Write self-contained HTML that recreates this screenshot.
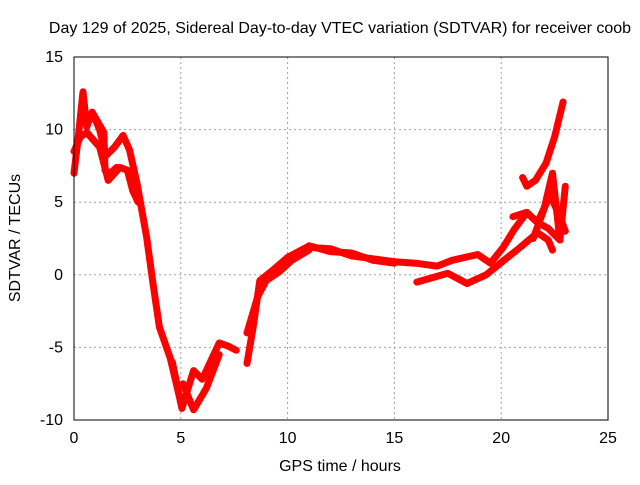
<!DOCTYPE html>
<html><head><meta charset="utf-8"><style>
body{margin:0;background:#fff}
text{font-family:"Liberation Sans",sans-serif;font-size:16px;fill:#000}
</style></head><body>
<svg id="chart" width="640" height="480" xmlns="http://www.w3.org/2000/svg">
<rect width="640" height="480" fill="#fff"/>
<text x="340" y="33" text-anchor="middle">Day 129 of 2025, Sidereal Day-to-day VTEC variation (SDTVAR) for receiver coob</text>
<g id="grid"></g>
<g id="ticks"></g>
<g id="series"></g>
<rect x="74" y="57" width="534" height="363" fill="none" stroke="#000" stroke-width="1"/>
<text x="340" y="471" text-anchor="middle">GPS time / hours</text>
<text transform="translate(20,238) rotate(-90)" text-anchor="middle">SDTVAR / TECUs</text>
</svg>
<script>
const xTicks=[0,5,10,15,20,25];
const yTicks=[-10,-5,0,5,10,15];
const t1Hours=[0,0.2,0.42,0.6,0.85,1.2,1.5,1.9,2.3,2.6,2.95,3.4,3.7,4.0,4.5,5.0];
const t1Vals=[7,9.5,12.6,10.2,11.2,10,8.2,8.8,9.6,8.6,6.3,2.6,-0.6,-3.6,-5.7,-8.8];
const t2Hours=[0,0.3,0.6,1.2,1.6,2.15,2.5,2.75,3.0];
const t2Vals=[8.5,9.5,9.8,8.8,6.5,7.4,7.2,5.8,5.0];
const t3Hours=[0.85,1.4,1.45,1.7,2.0];
const t3Vals=[11.2,9.8,7.2,7.0,7.4];
const t4Hours=[4.6,5.05,5.3,5.6,6.0,6.8,7.2,7.6];
const t4Vals=[-6.0,-9.2,-8.0,-6.6,-7.2,-4.7,-4.9,-5.2];
const t5Hours=[5.1,5.6,6.2,6.8];
const t5Vals=[-7.5,-9.3,-7.8,-5.5];
const t6Hours=[8.1,8.4,8.7,9.3,10,10.9,12,13,14,15,16,17,17.7,18.9,19.5,20.1,20.6,21.2,21.7,22.2,22.75];
const t6Vals=[-6.1,-3.5,-0.4,0.3,1.2,1.9,1.8,1.3,1.1,0.9,0.8,0.6,1.0,1.4,0.8,1.9,3.1,4.3,3.6,3.2,2.4];
const t7Hours=[16.05,17.5,18.4,19.3,20.3,20.9,21.7,22.2,22.4];
const t7Vals=[-0.5,0.1,-0.6,0,1.2,1.9,2.9,2.4,1.7];
const t8Hours=[20.55,21.2,21.7,22.3,22.8,23.0];
const t8Vals=[4.0,4.3,3.6,5.5,3.8,3.0];
const t9Hours=[21.0,21.2,21.6,22.1,22.5,22.9];
const t9Vals=[6.7,6.1,6.5,7.7,9.5,11.9];
const t10Hours=[21.5,22.0,22.4,22.75,23.0];
const t10Vals=[2.5,4.5,7.0,2.4,6.1];
const t11Hours=[8.1,8.6,9.0,9.6,10.2,11];
const t11Vals=[-4.0,-1.5,-0.4,0.2,1.0,1.7];
const t12Hours=[11,12,13,14,15];
const t12Vals=[2.0,1.6,1.5,1.0,0.8];
const tracks=[[t1Hours,t1Vals],[t2Hours,t2Vals],[t3Hours,t3Vals],[t4Hours,t4Vals],[t5Hours,t5Vals],[t6Hours,t6Vals],[t7Hours,t7Vals],[t8Hours,t8Vals],[t9Hours,t9Vals],[t10Hours,t10Vals],[t11Hours,t11Vals],[t12Hours,t12Vals]];
const X=h=>74+h*534/25, Y=v=>57+(15-v)*363/25;
const NS="http://www.w3.org/2000/svg";
const grid=document.getElementById('grid'),ticks=document.getElementById('ticks'),ser=document.getElementById('series');
function mk(tag,attrs,parent){const e=document.createElementNS(NS,tag);for(const k in attrs)e.setAttribute(k,attrs[k]);parent.appendChild(e);return e;}
xTicks.forEach(t=>{
  if(t>0&&t<25){const g=mk('line',{x1:X(t),x2:X(t),y1:57,y2:420,stroke:'#a0a0a0','stroke-dasharray':'2,3'},grid);
  
  }
  const tl=mk('text',{x:X(t),y:443,'text-anchor':'middle'},ticks);tl.textContent=t;
  
  
});
yTicks.forEach(t=>{
  if(t>-10&&t<15){const g=mk('line',{x1:74,x2:608,y1:Y(t),y2:Y(t),stroke:'#a0a0a0','stroke-dasharray':'2,3'},grid);
  
  }
  const tl=mk('text',{x:63,y:Y(t)+5,'text-anchor':'end'},ticks);tl.textContent=t;
  
  
});
tracks.forEach(([hs,vs])=>{
  const pts=hs.map((h,i)=>X(h).toFixed(1)+','+Y(vs[i]).toFixed(1)).join(' ');
  const p=mk('polyline',{points:pts,fill:'none',stroke:'#ff0000','stroke-width':7,'stroke-linejoin':'round','stroke-linecap':'round'},ser);
  
  
});
</script>
</body></html>
